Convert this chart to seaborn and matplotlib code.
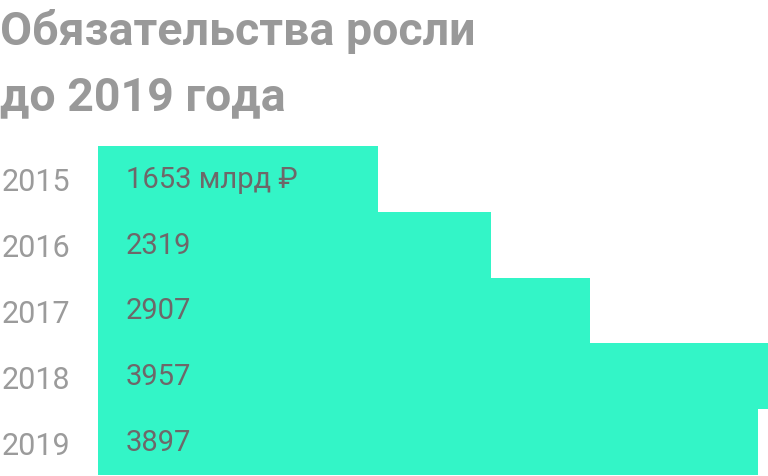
import matplotlib
matplotlib.use("Agg")
import matplotlib.pyplot as plt
import seaborn as sns
import pandas as pd

# данные
years = ["2015", "2016", "2017", "2018", "2019"]
values = [1653, 2319, 2907, 3957, 3897]
labels = ["1653 млрд ₽", "2319", "2907", "3957", "3897"]

bar_color = "#33F5C7"
year_color = "#9B9B9B"
value_color = "#6E6769"
title_color = "#999999"

sns.set_style("white")
plt.rcParams['font.family'] = ['Roboto', 'DejaVu Sans']

df = pd.DataFrame({"year": years, "value": values})

fig = plt.figure(figsize=(7.68, 4.77), dpi=100)
ax = fig.add_axes([98 / 768, 1 / 477, 670 / 768, 329 / 477])

sns.barplot(data=df, x="value", y="year", orient="h", color=bar_color,
            width=1.0, saturation=1, linewidth=0, ax=ax)

ax.set_xlim(0, 3957)
ax.set_ylim(4.5, -0.5)
for s in ax.spines.values():
    s.set_visible(False)
ax.set_xticks([])
ax.set_xlabel("")
ax.set_ylabel("")
ax.tick_params(axis="y", length=0, pad=20, labelsize=22, labelcolor=year_color)

for i, lab in enumerate(labels):
    ax.annotate(lab, xy=(0, i), xytext=(20, 0), textcoords="offset points",
                ha="left", va="center", fontsize=21, color=value_color)

fig.text(0, 1 - 45 / 477, "Обязательства росли", fontsize=33.5, fontweight="bold",
         color=title_color, ha="left", va="baseline")
fig.text(0, 1 - 110 / 477, "до 2019 года", fontsize=33.5, fontweight="bold",
         color=title_color, ha="left", va="baseline")

fig.savefig("out.png", dpi=100)
